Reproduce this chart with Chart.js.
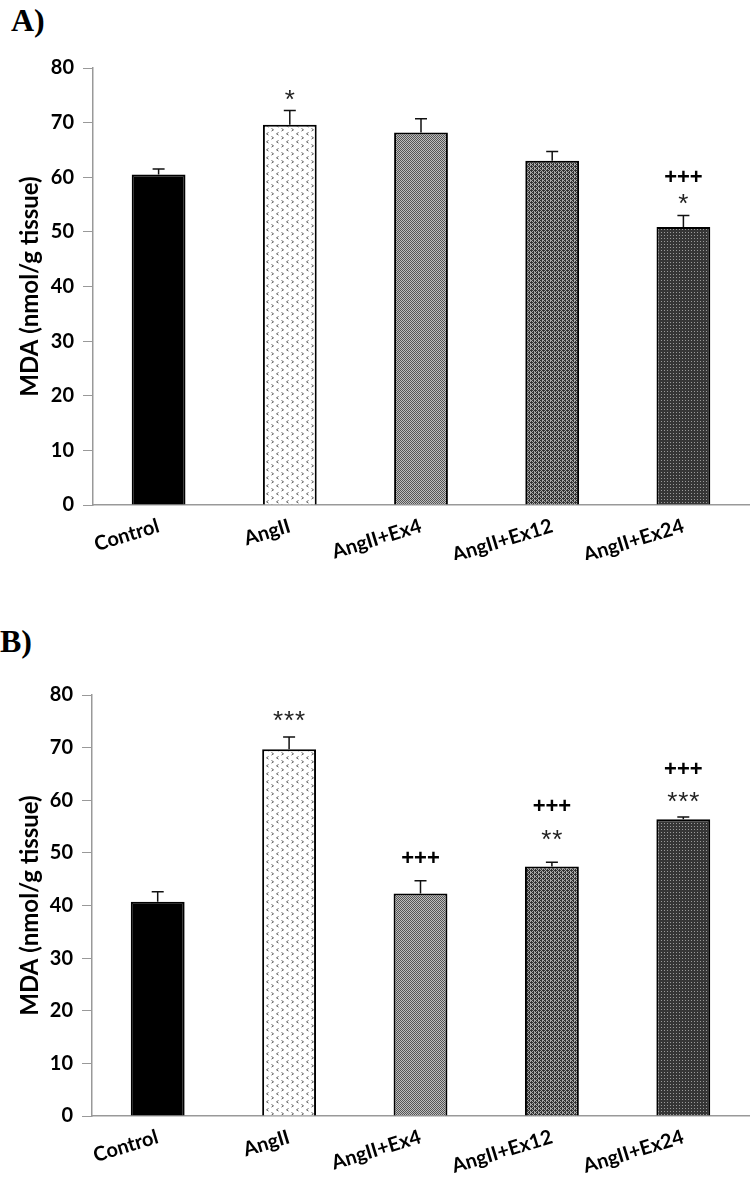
<!DOCTYPE html>
<html>
<head>
<meta charset="utf-8">
<script src="https://cdn.jsdelivr.net/npm/chart.js@4.4.1/dist/chart.umd.min.js"></script>
<style>
  html, body { margin: 0; padding: 0; background: #fff; }
  body { width: 750px; height: 1194px; position: relative; overflow: hidden; }
  .panel { position: absolute; left: 0; width: 750px; }
  .plabel { position: absolute; font-family: "Liberation Serif", "DejaVu Serif", serif; font-weight: bold; font-size: 32px; line-height: 36px; color: #000; }
</style>
</head>
<body>
<div class="plabel" style="left:11px; top:2px;">A)</div>
<div class="plabel" style="left:0px; top:623px;">B)</div>
<div class="panel" style="top:0px; height:560px;"><canvas id="chartA"></canvas></div>
<div class="panel" style="top:600px; height:594px;"><canvas id="chartB"></canvas></div>
<script>
// ---------- DATA ----------
const categories = ["Control", "AngII", "AngII+Ex4", "AngII+Ex12", "AngII+Ex24"];
const yTicks = [0, 10, 20, 30, 40, 50, 60, 70, 80];
const yTitle = "MDA (nmol/g tissue)";

// Panel A
const meanA = [60.5, 69.6, 68.2, 63.0, 50.9];
const errA  = [1.0, 2.6, 2.5, 1.7, 2.1];
const starTextA = ["", "*", "", "", "*"];
const starYA    = [null, 75.1, null, null, 56.0];
const plusTextA = ["", "", "", "", "+++"];
const plusYA    = [null, null, null, null, 60.1];

// Panel B
const meanB = [40.7, 69.7, 42.3, 47.4, 56.4];
const errB  = [1.9, 2.3, 2.4, 0.8, 0.4];
const starTextB = ["", "***", "", "**", "***"];
const starYB    = [null, 76.1, null, 53.5, 60.7];
const plusTextB = ["", "", "+++", "+++", "+++"];
const plusYB    = [null, null, 49.1, 59.0, 66.0];

// ---------- PATTERNS ----------
function makePattern(w, h, draw) {
  const c = document.createElement('canvas');
  c.width = w; c.height = h;
  const g = c.getContext('2d');
  draw(g, w, h);
  return g.createPattern(c, 'repeat');
}
const patAngII = makePattern(10, 8, (g) => {
  g.fillStyle = '#fff'; g.fillRect(0, 0, 10, 8);
  g.strokeStyle = '#666'; g.lineWidth = 1;
  g.beginPath(); g.moveTo(1.5, 0.5); g.lineTo(3.5, 1.8); g.lineTo(1.5, 3.1); g.stroke();
  g.beginPath(); g.moveTo(8.5, 4.5); g.lineTo(6.5, 5.8); g.lineTo(8.5, 7.1); g.stroke();
});
const patEx4 = makePattern(2, 2, (g) => {
  g.fillStyle = '#bdbdbd'; g.fillRect(0, 0, 2, 2);
  g.fillStyle = '#555'; g.fillRect(0, 0, 1, 1); g.fillRect(1, 1, 1, 1);
});
const patEx12 = makePattern(4, 4, (g) => {
  g.fillStyle = '#a8a8a8'; g.fillRect(0, 0, 4, 4);
  g.fillStyle = '#333';
  g.fillRect(0, 0, 2, 1); g.fillRect(1, 1, 1, 1); g.fillRect(3, 1, 1, 1);
  g.fillRect(2, 2, 2, 1); g.fillRect(0, 2, 1, 1); g.fillRect(3, 3, 1, 1); g.fillRect(1, 3, 1, 1);
});
const patEx24 = makePattern(3, 3, (g) => {
  g.fillStyle = '#363636'; g.fillRect(0, 0, 3, 3);
  g.fillStyle = '#9a9a9a'; g.fillRect(1, 1, 1, 1);
});
const fills = ['#000000', patAngII, patEx4, patEx12, patEx24];

// ---------- PLUGINS ----------
const errorAndSig = {
  id: 'errorAndSig',
  afterDatasetsDraw(chart, args, opts) {
    const { ctx, scales: { y } } = chart;
    const meta = chart.getDatasetMeta(0);
    ctx.save();
    opts.means.forEach((m, i) => {
      const cx = meta.data[i].x;
      const yTop = y.getPixelForValue(m);
      const yErr = y.getPixelForValue(m + opts.errs[i]);
      ctx.strokeStyle = '#111';
      ctx.lineWidth = 1.5;
      ctx.beginPath();
      ctx.moveTo(cx, yTop); ctx.lineTo(cx, yErr);
      ctx.moveTo(cx - 6, yErr); ctx.lineTo(cx + 6, yErr);
      ctx.stroke();
      ctx.textAlign = 'center';
      ctx.textBaseline = 'middle';
      if (opts.starText[i]) {
        const yc = y.getPixelForValue(opts.starY[i]);
        const n = opts.starText[i].length;
        const pitch = 11;
        ctx.fillStyle = '#222';
        ctx.font = '26px "Liberation Sans", Arial, sans-serif';
        for (let k = 0; k < n; k++) {
          const sx = cx + (k - (n - 1) / 2) * pitch;
          ctx.fillText('*', sx, yc + 6);
        }
      }
      if (opts.plusText[i]) {
        const yc = y.getPixelForValue(opts.plusY[i]);
        ctx.fillStyle = '#000';
        ctx.font = 'bold 22px "Liberation Sans", Arial, sans-serif';
        ctx.fillText(opts.plusText[i], cx, yc + 1);
      }
    });
    ctx.restore();
  }
};

function buildChart(id, means, errs, starText, starY, plusText, plusY, topPad, xHeight, yWidth) {
  return new Chart(document.getElementById(id), {
    type: 'bar',
    data: {
      labels: categories,
      datasets: [{
        data: means,
        backgroundColor: fills,
        borderColor: '#000',
        borderWidth: 2,
        borderSkipped: 'bottom',
        barPercentage: 0.41,
        categoryPercentage: 1.0
      }]
    },
    options: {
      responsive: true,
      maintainAspectRatio: false,
      animation: false,
      layout: { padding: { top: topPad, right: 1, bottom: 0, left: 0 } },
      plugins: {
        legend: { display: false },
        tooltip: { enabled: false },
        errorAndSig: { means, errs, starText, starY, plusText, plusY }
      },
      scales: {
        x: {
          grid: { display: false, drawTicks: false },
          border: { color: '#999', width: 1.5 },
          ticks: {
            color: '#000',
            font: { family: 'Lato, "Open Sans", sans-serif', weight: 'bold', size: 20 },
            minRotation: 17, maxRotation: 17,
            padding: 9
          },
          afterFit(scale) { scale.height = xHeight; }
        },
        y: {
          min: 0, max: 80,
          afterBuildTicks(scale) { scale.ticks = yTicks.map(v => ({ value: v })); },
          grid: { display: true, drawOnChartArea: false, drawTicks: true, tickLength: 10, color: '#999', lineWidth: 1 },
          border: { color: '#999', width: 1.5 },
          ticks: {
            color: '#000',
            font: { family: 'Lato, "Open Sans", sans-serif', weight: 'bold', size: 20 },
            padding: 9
          },
          title: {
            display: true,
            text: yTitle,
            color: '#000',
            font: { family: 'Lato, "Open Sans", sans-serif', weight: 'bold', size: 24 },
            padding: { top: 16, bottom: 0 }
          },
          afterFit(scale) { scale.width = yWidth; }
        }
      }
    },
    plugins: [errorAndSig]
  });
}

buildChart('chartA', meanA, errA, starTextA, starYA, plusTextA, plusYA, 68, 55, 93);
buildChart('chartB', meanB, errB, starTextB, starYB, plusTextB, plusYB, 95, 78, 92);
</script>
</body>
</html>
